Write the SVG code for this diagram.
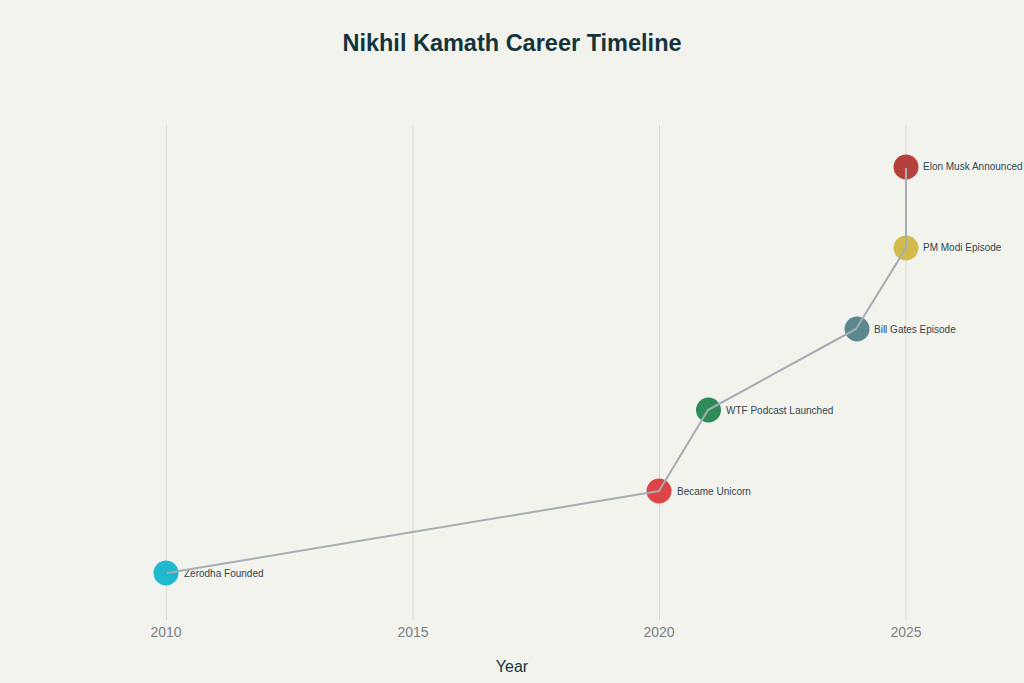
<svg xmlns="http://www.w3.org/2000/svg" width="1024" height="683" viewBox="0 0 1024 683">
<style>
.grid{stroke:#D9D9D4;stroke-width:1}
.tick{font-family:"Liberation Sans",Arial,sans-serif;font-size:14px;fill:#7A7F83;text-anchor:middle}
.lbl{font-family:"Liberation Sans",Arial,sans-serif;font-size:10px;fill:#2E4550}
.title{font-family:"Liberation Sans",Arial,sans-serif;font-size:23.5px;font-weight:bold;fill:#13343B;text-anchor:middle}
.axis{font-family:"Liberation Sans",Arial,sans-serif;font-size:16px;fill:#13343B;text-anchor:middle}
.conn{fill:none;stroke:#A5ADB4;stroke-width:2;stroke-linejoin:round}
</style>
<rect width="1024" height="683" fill="#F3F3EE"/>
<text class="title" x="512" y="51">Nikhil Kamath Career Timeline</text>
<g id="grid">
<line class="grid" x1="166.5" y1="125" x2="166.5" y2="620"/>
<line class="grid" x1="413" y1="125" x2="413" y2="620"/>
<line class="grid" x1="659.5" y1="125" x2="659.5" y2="620"/>
<line class="grid" x1="906" y1="125" x2="906" y2="620"/>
</g>
<g id="axis">
<text class="tick" x="166" y="637">2010</text>
<text class="tick" x="413" y="637">2015</text>
<text class="tick" x="659" y="637">2020</text>
<text class="tick" x="906" y="637">2025</text>
<text class="axis" x="512" y="672">Year</text>
</g>
<g id="n-zerodha"><circle cx="166" cy="573" r="12.5" fill="#1FB8CD"/><text class="lbl" x="184" y="577">Zerodha Founded</text></g>
<g id="n-unicorn"><circle cx="659" cy="491" r="12.5" fill="#DB4545"/><text class="lbl" x="677" y="495">Became Unicorn</text></g>
<g id="n-wtf"><circle cx="708.5" cy="410" r="12.5" fill="#2E8B57"/><text class="lbl" x="726" y="414">WTF Podcast Launched</text></g>
<g id="n-gates"><circle cx="857" cy="329" r="12.5" fill="#5D878F"/><text class="lbl" x="874" y="333">Bill Gates Episode</text></g>
<g id="n-modi"><circle cx="906" cy="248" r="12.5" fill="#D2BA4C"/><text class="lbl" x="923" y="251">PM Modi Episode</text></g>
<g id="n-musk"><circle cx="906" cy="167" r="12.5" fill="#B4413C"/><text class="lbl" x="923" y="170">Elon Musk Announced</text></g>
<g id="connectors">
<polyline class="conn" points="167,573 659,491 708,410 856,329 906,248 906,168"/>
</g>
</svg>
